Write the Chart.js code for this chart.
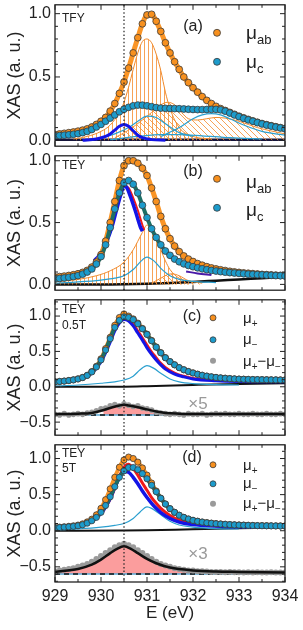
<!DOCTYPE html>
<html>
<head>
<meta charset="utf-8">
<script src="https://cdn.jsdelivr.net/npm/chart.js@4.4.0/dist/chart.umd.min.js"></script>
<style>
  body { margin: 0; background: #fff; }
  #wrap { position: relative; width: 303px; height: 630px; }
  canvas { position: absolute; left: 0; }
</style>
</head>
<body>
<div id="wrap">
  <canvas id="pa" width="303" height="151" style="top:0"></canvas>
  <canvas id="pb" width="303" height="144" style="top:151px"></canvas>
  <canvas id="pc" width="303" height="145" style="top:295px"></canvas>
  <canvas id="pd" width="303" height="190" style="top:440px"></canvas>
</div>
<script>
// energy grid of the measured points (eV)
const energy = [929.0, 929.1, 929.2, 929.3, 929.4, 929.5, 929.6, 929.7, 929.8, 929.9,
  930.0, 930.1, 930.2, 930.3, 930.4, 930.5, 930.6, 930.7, 930.8, 930.9,
  931.0, 931.1, 931.2, 931.3, 931.4, 931.5, 931.6, 931.7, 931.8, 931.9,
  932.0, 932.1, 932.2, 932.3, 932.4, 932.5, 932.6, 932.7, 932.8, 932.9,
  933.0, 933.1, 933.2, 933.3, 933.4, 933.5, 933.6, 933.7, 933.8, 933.9, 934.0];

// tick positions
const xMajor = [929, 930, 931, 932, 933, 934];
const xMinor = [929.5, 930.5, 931.5, 932.5, 933.5];
const yMajorAB = [0, 0.5, 1.0];
const yMinorAB = [0.1, 0.2, 0.3, 0.4, 0.6, 0.7, 0.8, 0.9];
const yMajorCD = [-0.5, 0, 0.5, 1.0];
const yMinorC = [-0.6, -0.4, -0.3, -0.2, -0.1, 0.1, 0.2, 0.3, 0.4, 0.6, 0.7, 0.8, 0.9, 1.1, 1.2];
const yMinorD = [-0.7, -0.6, -0.4, -0.3, -0.2, -0.1, 0.1, 0.2, 0.3, 0.4, 0.6, 0.7, 0.8, 0.9, 1.1];
const edgeLine = 930.5;

// (a) TFY
const aMuAB = [0.045, 0.05, 0.055, 0.06, 0.065, 0.072, 0.08, 0.09, 0.105, 0.125,
  0.15, 0.18, 0.23, 0.29, 0.37, 0.46, 0.57, 0.69, 0.81, 0.92,
  0.99, 0.995, 0.94, 0.86, 0.77, 0.69, 0.62, 0.56, 0.5, 0.455,
  0.415, 0.38, 0.345, 0.315, 0.29, 0.268, 0.25, 0.235, 0.22, 0.205,
  0.19, 0.177, 0.165, 0.153, 0.142, 0.132, 0.123, 0.115, 0.107, 0.1, 0.094];
const aMuC = [0.035, 0.037, 0.04, 0.043, 0.047, 0.052, 0.06, 0.07, 0.085, 0.105,
  0.125, 0.15, 0.175, 0.2, 0.225, 0.245, 0.26, 0.272, 0.278, 0.277,
  0.272, 0.265, 0.258, 0.254, 0.252, 0.251, 0.25, 0.249, 0.247, 0.245,
  0.243, 0.242, 0.242, 0.243, 0.244, 0.244, 0.24, 0.23, 0.215, 0.2,
  0.186, 0.173, 0.161, 0.15, 0.139, 0.129, 0.12, 0.112, 0.104, 0.097, 0.09];
const aVertE = [929.4, 929.7, 930.0, 930.2, 930.4, 930.5, 930.6, 930.7, 930.8, 930.9, 931.0, 931.1, 931.2, 931.3, 931.4, 931.5, 931.7, 932.0, 932.4];
const aVertV = [0.01, 0.03, 0.07, 0.12, 0.22, 0.3, 0.42, 0.56, 0.69, 0.78, 0.8, 0.77, 0.68, 0.55, 0.38, 0.25, 0.1, 0.03, 0.01];
const aDiagE = [930.3, 930.6, 930.9, 931.1, 931.3, 931.45, 931.6, 931.75, 931.9, 932.1, 932.3, 932.5, 932.7, 933.0, 933.4, 934.0];
const aDiagV = [0.02, 0.08, 0.16, 0.22, 0.28, 0.3, 0.28, 0.22, 0.17, 0.16, 0.17, 0.18, 0.175, 0.15, 0.1, 0.05];
const aCyan1E = [930.0, 930.3, 930.6, 930.8, 931.0, 931.2, 931.4, 931.7, 932.0];
const aCyan1V = [0.02, 0.05, 0.1, 0.15, 0.19, 0.18, 0.13, 0.06, 0.03];
const aCyan2E = [931.3, 931.7, 932.0, 932.2, 932.4, 932.6, 932.8, 933.1, 933.5, 934.0];
const aCyan2V = [0.03, 0.1, 0.17, 0.2, 0.21, 0.2, 0.17, 0.12, 0.07, 0.04];
const aCyan3E = [930.2, 930.8, 931.3, 931.7, 932.2, 932.8, 933.5];
const aCyan3V = [0.005, 0.03, 0.045, 0.045, 0.035, 0.02, 0.01];
const aBlueE = [929.6, 929.9, 930.1, 930.2, 930.3, 930.4, 930.5, 930.6, 930.7, 930.8, 930.9, 931.1, 931.4];
const aBlueV = [0.0, 0.01, 0.03, 0.05, 0.08, 0.11, 0.125, 0.11, 0.075, 0.04, 0.02, 0.005, 0.0];
const flatE = [929, 934];
const aBaseV = [0.003, 0.003];

// (b) TEY
const bMuAB = [0.06, 0.063, 0.067, 0.072, 0.078, 0.086, 0.097, 0.113, 0.14, 0.18,
  0.24, 0.35, 0.5, 0.67, 0.84, 0.96, 1.0, 1.0, 0.98, 0.94,
  0.88, 0.78, 0.67, 0.55, 0.45, 0.37, 0.31, 0.265, 0.23, 0.205,
  0.185, 0.168, 0.155, 0.143, 0.133, 0.125, 0.118, 0.112, 0.106, 0.101,
  0.097, 0.093, 0.09, 0.087, 0.084, 0.081, 0.079, 0.077, 0.075, 0.073, 0.071];
const bMuC = [0.045, 0.048, 0.052, 0.057, 0.063, 0.071, 0.083, 0.1, 0.125, 0.165,
  0.225, 0.32, 0.46, 0.61, 0.74, 0.82, 0.84, 0.81, 0.74, 0.64,
  0.54, 0.45, 0.38, 0.32, 0.27, 0.235, 0.205, 0.183, 0.166, 0.153,
  0.143, 0.134, 0.126, 0.119, 0.113, 0.108, 0.103, 0.099, 0.095, 0.092,
  0.089, 0.086, 0.083, 0.081, 0.079, 0.077, 0.075, 0.073, 0.071, 0.07, 0.068];
const bBlueE = [929.85, 929.95, 930.05, 930.15, 930.25, 930.35, 930.45, 930.5, 930.55, 930.65, 930.75, 930.85, 930.9];
const bBlueV = [0.19, 0.23, 0.29, 0.37, 0.48, 0.62, 0.75, 0.8, 0.79, 0.7, 0.59, 0.47, 0.43];
const bRedE = [930.52, 930.6, 930.7, 930.8, 930.9, 930.94];
const bRedV = [0.8, 0.78, 0.7, 0.6, 0.48, 0.44];
const bTailE = [931.85, 932.1, 932.4];
const bTailV = [0.105, 0.088, 0.075];
const bVertE = [929.0, 929.5, 929.9, 930.2, 930.5, 930.7, 930.9, 931.0, 931.1, 931.2, 931.3, 931.4, 931.5, 931.7, 932.0];
const bVertV = [0.02, 0.04, 0.07, 0.11, 0.18, 0.28, 0.42, 0.48, 0.45, 0.37, 0.28, 0.19, 0.12, 0.05, 0.02];
const bDiagE = [931.1, 931.3, 931.45, 931.55, 931.7, 931.9, 932.2];
const bDiagV = [0.01, 0.05, 0.08, 0.085, 0.07, 0.03, 0.01];
const bCyanE = [929.0, 929.5, 930.0, 930.3, 930.5, 930.7, 930.85, 931.0, 931.15, 931.3, 931.5, 931.7, 932.0, 932.5];
const bCyanV = [0.01, 0.02, 0.035, 0.05, 0.07, 0.12, 0.18, 0.22, 0.19, 0.13, 0.07, 0.04, 0.025, 0.015];
const bBaseE = [929, 930, 930.5, 931, 931.5, 932, 932.5, 933, 933.5, 934];
const bBaseV = [0, 0, 0.002, 0.006, 0.012, 0.02, 0.03, 0.04, 0.05, 0.06];

// (c) TEY 0.5T
const cMuPlus = [0.07, 0.075, 0.081, 0.089, 0.098, 0.112, 0.132, 0.163, 0.215, 0.29,
  0.395, 0.54, 0.7, 0.87, 0.98, 1.03, 1.0, 0.96, 0.9, 0.825,
  0.745, 0.655, 0.563, 0.482, 0.412, 0.356, 0.311, 0.271, 0.241, 0.216,
  0.196, 0.178, 0.163, 0.151, 0.141, 0.133, 0.126, 0.121, 0.116, 0.112,
  0.109, 0.107, 0.105, 0.103, 0.102, 0.101, 0.1, 0.099, 0.098, 0.097, 0.096];
const cMuMinus = [0.07, 0.075, 0.08, 0.088, 0.097, 0.11, 0.13, 0.16, 0.21, 0.28,
  0.38, 0.52, 0.68, 0.84, 0.94, 0.99, 0.98, 0.95, 0.89, 0.82,
  0.74, 0.65, 0.56, 0.48, 0.41, 0.355, 0.31, 0.27, 0.24, 0.215,
  0.195, 0.177, 0.162, 0.15, 0.14, 0.132, 0.125, 0.12, 0.115, 0.111,
  0.108, 0.106, 0.104, 0.102, 0.101, 0.1, 0.099, 0.098, 0.097, 0.096, 0.095];
const cDiff = [-0.39, -0.4, -0.38, -0.4, -0.39, -0.38, -0.39, -0.37, -0.36, -0.34,
  -0.31, -0.3, -0.27, -0.25, -0.27, -0.24, -0.26, -0.28, -0.27, -0.3,
  -0.31, -0.33, -0.36, -0.37, -0.38, -0.39, -0.38, -0.39, -0.4, -0.38,
  -0.39, -0.39, -0.38, -0.4, -0.39, -0.38, -0.39, -0.38, -0.39, -0.39,
  -0.38, -0.39, -0.39, -0.38, -0.39, -0.39, -0.38, -0.39, -0.39, -0.38, -0.39];
const cBlueE = [929.0, 929.5, 929.8, 930.0, 930.1, 930.2, 930.3, 930.4, 930.5, 930.6, 930.7, 930.8, 930.9, 931.0, 931.1, 931.2, 931.3, 931.4, 931.6, 931.8, 932.0, 932.5, 933.0, 934.0];
const cBlueV = [0.065, 0.1, 0.19, 0.35, 0.48, 0.63, 0.79, 0.9, 0.95, 0.93, 0.86, 0.76, 0.66, 0.55, 0.46, 0.38, 0.31, 0.25, 0.18, 0.14, 0.11, 0.085, 0.075, 0.07];
const cRedE = [930.4, 930.5, 930.6, 930.7, 930.8, 930.9, 931.0, 931.1, 931.2, 931.3, 931.4, 931.6, 931.8, 932.0, 932.5];
const cRedV = [0.91, 0.96, 0.95, 0.89, 0.8, 0.7, 0.6, 0.5, 0.42, 0.34, 0.28, 0.2, 0.155, 0.125, 0.09];
const cCyanE = [929.0, 929.5, 930.0, 930.3, 930.5, 930.7, 930.85, 931.0, 931.15, 931.3, 931.5, 931.7, 932.0, 932.5, 933.0];
const cCyanV = [0.01, 0.025, 0.05, 0.07, 0.095, 0.15, 0.24, 0.3, 0.26, 0.19, 0.11, 0.07, 0.045, 0.03, 0.025];
const cBaseE = [929, 930.5, 931, 932, 933, 934];
const cBaseV = [0, 0.002, 0.008, 0.025, 0.04, 0.05];
const cFitE = [929.0, 929.5, 929.8, 930.0, 930.2, 930.4, 930.5, 930.6, 930.8, 931.0, 931.2, 931.4, 931.7, 932.0, 933.0, 934.0];
const cFitV = [-0.385, -0.38, -0.37, -0.34, -0.3, -0.265, -0.255, -0.265, -0.29, -0.32, -0.35, -0.37, -0.38, -0.385, -0.385, -0.385];
const cPinkE = [930.05, 930.2, 930.4, 930.5, 930.6, 930.8, 931.0, 931.2, 931.35];
const cPinkV = [-0.33, -0.3, -0.265, -0.255, -0.265, -0.29, -0.32, -0.35, -0.365];
const cZeroV = [-0.4, -0.4];

// (d) TEY 5T
const dMuPlus = [0.045, 0.05, 0.055, 0.061, 0.068, 0.078, 0.095, 0.122, 0.16, 0.22,
  0.31, 0.43, 0.58, 0.74, 0.88, 0.98, 1.02, 1.0, 0.95, 0.87,
  0.77, 0.66, 0.55, 0.45, 0.37, 0.305, 0.255, 0.215, 0.185, 0.162,
  0.145, 0.132, 0.121, 0.112, 0.105, 0.099, 0.094, 0.09, 0.086, 0.083,
  0.08, 0.078, 0.076, 0.074, 0.072, 0.071, 0.07, 0.069, 0.068, 0.067, 0.066];
const dMuMinus = [0.04, 0.044, 0.049, 0.054, 0.06, 0.069, 0.083, 0.105, 0.138, 0.185,
  0.255, 0.35, 0.47, 0.61, 0.74, 0.83, 0.875, 0.875, 0.845, 0.79,
  0.72, 0.63, 0.54, 0.45, 0.37, 0.305, 0.255, 0.215, 0.185, 0.162,
  0.143, 0.13, 0.119, 0.11, 0.103, 0.097, 0.092, 0.088, 0.084, 0.081,
  0.078, 0.076, 0.074, 0.072, 0.07, 0.069, 0.068, 0.067, 0.066, 0.065, 0.064];
const dDiff = [-0.56, -0.55, -0.54, -0.53, -0.52, -0.5, -0.48, -0.46, -0.43, -0.39,
  -0.35, -0.31, -0.27, -0.23, -0.2, -0.18, -0.2, -0.23, -0.27, -0.31,
  -0.35, -0.39, -0.43, -0.46, -0.48, -0.5, -0.52, -0.53, -0.54, -0.55,
  -0.55, -0.56, -0.56, -0.565, -0.57, -0.57, -0.57, -0.575, -0.57, -0.575,
  -0.575, -0.58, -0.575, -0.58, -0.575, -0.58, -0.58, -0.575, -0.58, -0.58, -0.58];
const dBlueE = [929.0, 929.5, 929.8, 930.0, 930.1, 930.2, 930.3, 930.4, 930.5, 930.6, 930.7, 930.8, 930.9, 931.0, 931.1, 931.2, 931.3, 931.5, 931.7, 932.0, 932.5, 933.0, 934.0];
const dBlueV = [0.04, 0.07, 0.13, 0.24, 0.33, 0.45, 0.6, 0.74, 0.82, 0.81, 0.74, 0.65, 0.55, 0.46, 0.38, 0.31, 0.25, 0.17, 0.12, 0.085, 0.065, 0.055, 0.05];
const dRedE = [930.0, 930.2, 930.3, 930.4, 930.5, 930.6, 930.7, 930.8, 930.9, 931.0, 931.1, 931.2, 931.3, 931.5, 931.7, 932.0, 932.5, 933.0];
const dRedV = [0.23, 0.44, 0.59, 0.75, 0.88, 0.92, 0.86, 0.77, 0.66, 0.56, 0.46, 0.38, 0.31, 0.21, 0.145, 0.1, 0.07, 0.06];
const dCyanE = [929.0, 929.5, 930.0, 930.3, 930.5, 930.7, 930.85, 931.0, 931.1, 931.3, 931.5, 931.7, 932.0, 932.5, 933.0];
const dCyanV = [0.01, 0.025, 0.05, 0.075, 0.1, 0.17, 0.26, 0.33, 0.31, 0.22, 0.13, 0.08, 0.05, 0.03, 0.025];
const dBaseE = [929, 930.5, 931, 932, 933, 934];
const dBaseV = [0, 0.002, 0.006, 0.02, 0.033, 0.045];
const dFitE = [929.0, 929.5, 929.8, 930.0, 930.2, 930.35, 930.5, 930.65, 930.8, 931.0, 931.2, 931.5, 932.0, 932.5, 933.0, 934.0];
const dFitV = [-0.57, -0.53, -0.47, -0.4, -0.31, -0.25, -0.215, -0.25, -0.31, -0.39, -0.45, -0.51, -0.55, -0.565, -0.57, -0.58];
const dZeroV = [-0.6, -0.6];

// 색상
const ORANGE = '#f7901e';
const BLUE = '#1c9bcb';
const EDGE = '#3a3a3a';
const TEAL = '#1d6f66';
const FITOR = '#fa9526';
const DEEP = '#1414e6';
const RED = '#f01a1a';
const CYAN = '#2a9fcf';
const OUTLINE = '#f08a2c';
const PINK = 'rgba(250,140,140,0.85)';
const GRAY = '#9a9a9a';

Chart.defaults.font.family = '"Liberation Sans", Arial, sans-serif';
Chart.defaults.color = '#222';

function hatch(kind, color) {
  const c = document.createElement('canvas');
  const n = kind === 'v' ? 4 : 6;
  c.width = n; c.height = n;
  const g = c.getContext('2d');
  g.strokeStyle = color; g.lineWidth = 1;
  g.beginPath();
  if (kind === 'v') {
    g.moveTo(0.5, 0); g.lineTo(0.5, n);
  } else {
    g.moveTo(-1, -1); g.lineTo(n + 1, n + 1);
    g.moveTo(-1, n - 1); g.lineTo(1, n + 1);
    g.moveTo(n - 1, -1); g.lineTo(n + 1, 1);
  }
  g.stroke();
  return g.createPattern(c, 'repeat');
}
const vHatch = hatch('v', 'rgba(245,140,45,0.8)');
const dHatch = hatch('d', 'rgba(245,140,45,0.8)');

function series(xs, ys) {
  return xs.map((x, i) => ({ x: x, y: ys[i] }));
}

function dots(ys, fill, edge, r) {
  return {
    data: series(energy, ys), showLine: false, pointRadius: r,
    pointBackgroundColor: fill, pointBorderColor: edge || fill,
    pointBorderWidth: edge ? 0.8 : 0
  };
}

function curve(xs, ys, color, width, more) {
  return Object.assign({
    data: series(xs, ys), borderColor: color, borderWidth: width,
    pointRadius: 0, cubicInterpolationMode: 'monotone', fill: false
  }, more || {});
}

function filled(xs, ys, pattern, base) {
  return curve(xs, ys, OUTLINE, 1, { fill: { value: base }, backgroundColor: pattern });
}

function drawText(ctx, parts, x, y, big, small) {
  parts.forEach(p => {
    ctx.font = big + 'px "Liberation Sans", Arial, sans-serif';
    ctx.fillText(p[0], x, y);
    x += ctx.measureText(p[0]).width;
    if (p[1]) {
      ctx.font = small + 'px "Liberation Sans", Arial, sans-serif';
      ctx.fillText(p[1], x, y + big * 0.27);
      x += ctx.measureText(p[1]).width;
    }
  });
}

// 프레임, 눈금, 점선, 범례
const panelDeco = {
  id: 'panelDeco',
  afterDatasetsDraw(chart, args, o) {
    const { ctx, chartArea: a, scales: { x, y } } = chart;
    ctx.save();
    ctx.strokeStyle = '#222';
    ctx.lineWidth = 1.2;
    ctx.setLineDash([1.5, 2.2]);
    const xd = x.getPixelForValue(edgeLine);
    ctx.beginPath(); ctx.moveTo(xd, a.top); ctx.lineTo(xd, a.bottom); ctx.stroke();
    ctx.setLineDash([]);
    ctx.lineWidth = 1;
    ctx.beginPath();
    const xt = (vals, len) => vals.forEach(v => {
      const p = x.getPixelForValue(v);
      ctx.moveTo(p, a.bottom); ctx.lineTo(p, a.bottom - len);
      ctx.moveTo(p, a.top); ctx.lineTo(p, a.top + len);
    });
    const yt = (vals, len) => vals.forEach(v => {
      const p = y.getPixelForValue(v);
      ctx.moveTo(a.left, p); ctx.lineTo(a.left + len, p);
      ctx.moveTo(a.right, p); ctx.lineTo(a.right - len, p);
    });
    xt(xMajor, 5); xt(xMinor, 3);
    yt(o.yMajor, 5); yt(o.yMinor, 3);
    ctx.stroke();
    ctx.lineWidth = 1.3;
    ctx.strokeRect(a.left, a.top, a.width, a.height);
    ctx.restore();
  },
  afterDraw(chart, args, o) {
    const { ctx, chartArea: a } = chart;
    ctx.save();
    ctx.fillStyle = '#222';
    ctx.textBaseline = 'middle';
    ctx.font = '12px "Liberation Sans", Arial, sans-serif';
    o.tags.forEach(t => ctx.fillText(t[2], a.left + t[0], a.top + t[1]));
    ctx.font = '16px "Liberation Sans", Arial, sans-serif';
    ctx.textAlign = 'center';
    ctx.fillText(o.letter[2], a.left + o.letter[0], a.top + o.letter[1]);
    if (o.mult) {
      ctx.fillStyle = GRAY;
      ctx.font = '17px "Liberation Sans", Arial, sans-serif';
      ctx.fillText(o.mult[2], a.left + o.mult[0], a.top + o.mult[1]);
    }
    ctx.textAlign = 'left';
    ctx.textBaseline = 'alphabetic';
    o.legend.forEach(l => {
      ctx.beginPath();
      ctx.arc(a.left + l.mx, a.top + l.my, l.r, 0, Math.PI * 2);
      ctx.fillStyle = l.fill; ctx.fill();
      if (l.edge) { ctx.strokeStyle = l.edge; ctx.lineWidth = 0.8; ctx.stroke(); }
      ctx.fillStyle = '#222';
      drawText(ctx, l.parts, a.left + l.tx, a.top + l.ty, l.big, l.small);
    });
    ctx.restore();
  }
};

function panel(id, yMin, yMax, yMajor, pad, withAxis, datasets, deco) {
  new Chart(document.getElementById(id), {
    type: 'line',
    data: { datasets: datasets },
    options: {
      responsive: false,
      maintainAspectRatio: false,
      animation: false,
      events: [],
      layout: { padding: { left: 0, right: 18, top: pad[0], bottom: pad[1] } },
      plugins: { legend: { display: false }, tooltip: { enabled: false }, panelDeco: deco },
      scales: {
        x: {
          type: 'linear', min: 929, max: 934, display: withAxis,
          grid: { display: false, drawTicks: false }, border: { display: false },
          afterBuildTicks: s => { s.ticks = xMajor.map(v => ({ value: v })); },
          afterFit: s => { s.height = withAxis ? 48 : 0; s.paddingLeft = 0; s.paddingRight = 0; },
          ticks: { font: { size: 16 }, padding: 5, maxRotation: 0, callback: v => String(v) },
          title: { display: true, text: 'E (eV)', font: { size: 17 }, padding: { top: 0, bottom: 6 } }
        },
        y: {
          min: yMin, max: yMax,
          grid: { display: false, drawTicks: false }, border: { display: false },
          afterBuildTicks: s => { s.ticks = yMajor.map(v => ({ value: v })); },
          afterFit: s => { s.width = 55; s.paddingTop = 0; s.paddingBottom = 0; },
          ticks: { font: { size: 16 }, padding: 4, callback: v => v.toFixed(1).replace('-', '\u2212') },
          title: { display: true, text: 'XAS (a. u.)', font: { size: 18 }, padding: { top: 4, bottom: 0 } }
        }
      }
    },
    plugins: [panelDeco]
  });
}

const legendAB = (d1, d2, t1, t2, sub2) => [
  { mx: 162, my: d1, r: 3.5, fill: ORANGE, edge: EDGE, tx: 191, ty: t1, parts: [['\u03bc', 'ab']], big: 19, small: 13 },
  { mx: 162, my: d2, r: 3.5, fill: BLUE, edge: EDGE, tx: 191, ty: t2, parts: [['\u03bc', sub2]], big: 19, small: 13 }
];
const legendCD = (m, t) => [
  { mx: 158, my: m[0], r: 3, fill: ORANGE, edge: EDGE, tx: 188, ty: t[0], parts: [['\u03bc', '+']], big: 15, small: 10 },
  { mx: 158, my: m[1], r: 3, fill: BLUE, edge: EDGE, tx: 188, ty: t[1], parts: [['\u03bc', '\u2212']], big: 15, small: 10 },
  { mx: 158, my: m[2], r: 3, fill: GRAY, edge: null, tx: 188, ty: t[2], parts: [['\u03bc', '+'], ['\u2212', ''], ['\u03bc', '\u2212']], big: 15, small: 10 }
];

// (a)
panel('pa', -0.047, 1.07, yMajorAB, [4, 3], false, [
  dots(aMuC, BLUE, EDGE, 3.4),
  dots(aMuAB, ORANGE, EDGE, 3.4),
  curve(energy, aMuC, TEAL, 4),
  curve(energy, aMuAB, FITOR, 5),
  curve(aBlueE, aBlueV, DEEP, 3),
  curve(aCyan1E, aCyan1V, CYAN, 1.2),
  curve(aCyan2E, aCyan2V, CYAN, 1.2),
  curve(aCyan3E, aCyan3V, CYAN, 1.2),
  filled(aVertE, aVertV, vHatch, 0),
  filled(aDiagE, aDiagV, dHatch, 0),
  curve(flatE, aBaseV, '#15153a', 2.5)
], {
  yMajor: yMajorAB, yMinor: yMinorAB,
  tags: [[7, 13.5, 'TFY']], letter: [138, 22, '(a)'],
  legend: legendAB(28, 57, 34.5, 63, 'c')
});

// (b)
panel('pb', -0.047, 1.04, yMajorAB, [2, 2], false, [
  dots(bMuC, BLUE, EDGE, 3.4),
  dots(bMuAB, ORANGE, EDGE, 3.4),
  curve(energy, bMuC, TEAL, 4),
  curve(energy, bMuAB, FITOR, 5),
  curve(bBlueE, bBlueV, DEEP, 3.5),
  curve(bRedE, bRedV, RED, 2),
  curve(bTailE, bTailV, '#4a1aa8', 2),
  curve(bCyanE, bCyanV, CYAN, 1.2),
  filled(bVertE, bVertV, vHatch, 0),
  filled(bDiagE, bDiagV, dHatch, 0),
  curve(bBaseE, bBaseV, '#111', 2.5)
], {
  yMajor: yMajorAB, yMinor: yMinorAB,
  tags: [[7, 10, 'TEY']], letter: [138, 16, '(b)'],
  legend: legendAB(23, 52, 32, 60, 'c')
});

// (c)
panel('pc', -0.685, 1.23, yMajorCD, [2, 3], false, [
  dots(cMuMinus, BLUE, EDGE, 3.1),
  dots(cMuPlus, ORANGE, EDGE, 3.1),
  curve(energy, cMuMinus, TEAL, 4),
  curve(energy, cMuPlus, FITOR, 4),
  curve(cBlueE, cBlueV, DEEP, 3),
  curve(cRedE, cRedV, RED, 2),
  curve(cCyanE, cCyanV, CYAN, 1.2),
  curve(cBaseE, cBaseV, '#111', 2),
  curve(cFitE, cFitV, '#111', 2.5),
  dots(cDiff, GRAY, null, 2.8),
  curve(flatE, cZeroV, '#111', 1.5, { borderDash: [5, 4] }),
  curve(flatE, cZeroV, '#5aa8d4', 1.5),
  curve(cPinkE, cPinkV, 'rgba(0,0,0,0)', 0, { fill: { value: -0.4 }, backgroundColor: PINK })
], {
  yMajor: yMajorCD, yMinor: yMinorC,
  tags: [[7, 10, 'TEY'], [7, 26, '0.5T']], letter: [137, 17, '(c)'],
  mult: [143, 105, '\u00d75'],
  legend: legendCD([18, 40, 61], [23, 44, 66])
});

// (d)
panel('pd', -0.71, 1.19, yMajorCD, [3, 0], true, [
  dots(dMuMinus, BLUE, EDGE, 3.1),
  dots(dMuPlus, ORANGE, EDGE, 3.1),
  curve(energy, dMuMinus, TEAL, 4),
  curve(energy, dMuPlus, FITOR, 4),
  curve(dBlueE, dBlueV, DEEP, 3.5),
  curve(dRedE, dRedV, RED, 3),
  curve(dCyanE, dCyanV, CYAN, 1.2),
  curve(dBaseE, dBaseV, '#111', 2),
  curve(dFitE, dFitV, '#111', 2.5),
  dots(dDiff, GRAY, null, 3),
  curve(flatE, dZeroV, '#111', 1.5, { borderDash: [5, 4] }),
  curve(flatE, dZeroV, '#5aa8d4', 1.5),
  curve(dFitE, dFitV, 'rgba(0,0,0,0)', 0, { fill: { value: -0.6 }, backgroundColor: PINK })
], {
  yMajor: yMajorCD, yMinor: yMinorD,
  tags: [[7, 9, 'TEY'], [7, 24, '5T']], letter: [137, 13, '(d)'],
  mult: [143, 110, '\u00d73'],
  legend: legendCD([20, 39, 59], [25, 43, 63])
});
</script>
</body>
</html>
